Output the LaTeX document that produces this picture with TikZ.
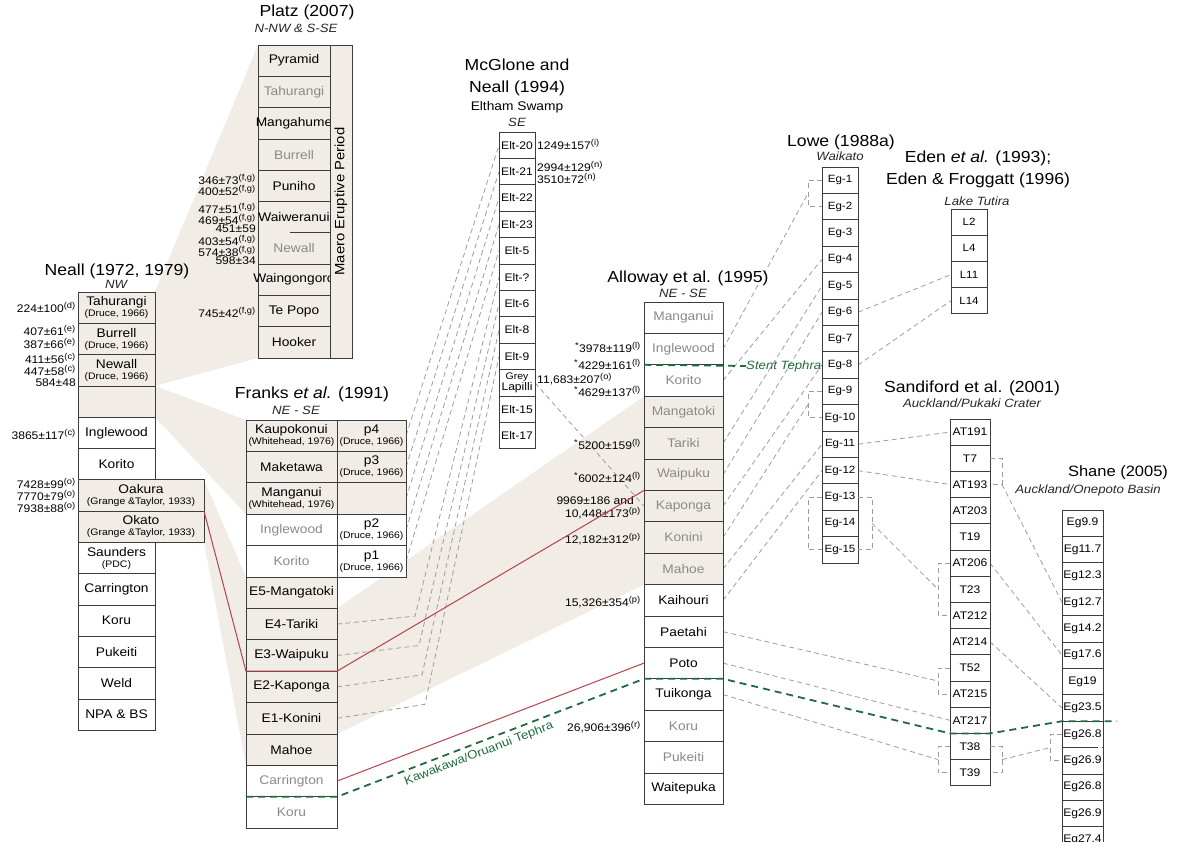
\documentclass[tikz,border=0pt]{standalone}
\usepackage{fontspec}
\setmainfont{Liberation Sans}[FakeStretch=1.1]
\usetikzlibrary{calc}

\definecolor{beige}{HTML}{F2ECE6}
\definecolor{cellline}{HTML}{3C3C3C}
\definecolor{gtext}{HTML}{8A8A8A}
\definecolor{dashgrey}{HTML}{9C9C9C}
\definecolor{tephragreen}{HTML}{1F6B3C}
\definecolor{boundred}{HTML}{B4434C}

\pgfdeclarelayer{bg}
\pgfsetlayers{bg,main}

\newcommand{\srcnote}[1]{\\[-2pt]{\fontsize{9.5}{10}\selectfont #1}}
\newcommand{\sups}[1]{\textsuperscript{\fontsize{8.5}{9}\selectfont #1}}

\tikzset{
  cell/.style={draw=cellline, line width=0.8pt, inner sep=0pt, outer sep=0pt,
    align=center, font=\fontsize{12.5}{13}\selectfont},
  tcell/.style={cell, fill=white, font=\fontsize{11}{11.5}\selectfont},
  coltitle/.style={font=\fontsize{16}{22}\selectfont, align=center, inner sep=0pt},
  colsub/.style={font=\fontsize{12}{13}\selectfont\itshape, text=black!85, inner sep=0pt},
  datelbl/.style={font=\fontsize{11}{11}\selectfont, inner sep=0pt, anchor=east},
  band/.style={fill=beige, draw=none},
  tielink/.style={draw=dashgrey, line width=0.8pt, dash pattern=on 5pt off 3.5pt},
  redline/.style={draw=boundred, line width=1pt},
  tephra/.style={draw=tephragreen, line width=1.8pt, dash pattern=on 7pt off 5pt},
}

\begin{document}
\begin{tikzpicture}[x=1pt,y=-1pt]
\useasboundingbox (0,0) rectangle (1178,841);
\clip (0,0) rectangle (1178,841);

% Platz (2007)
\node[coltitle] (pl-t) at (307,12) {Platz (2007)};
\node[colsub] (pl-s) at (296,28) {N-NW \& S-SE};
\foreach \lab/\tc [count=\i] in {Pyramid/black, Tahurangi/gtext, Mangahume/black,
    Burrell/gtext, Puniho/black, Waiweranui/black, Newall/gtext, Waingongoro/black,
    Te Popo/black, Hooker/black}
  \node[cell, fill=beige, text=\tc, minimum width=72pt, minimum height=31.3pt]
    (pl-\i) at (294,{45+(\i-0.5)*31.3}) {\makebox[0pt]{\lab}};
\draw[beige, line width=1.4pt] ($(pl-6.south west)+(0.8,0)$) -- ++(31,0);
\node[cell, fill=beige, rotate=90, minimum width=313pt, minimum height=22pt,
  font=\fontsize{13.5}{14}\selectfont] (pl-maero) at (341,201.5) {Maero Eruptive Period};
\foreach \y/\t [count=\i] in {179/{346±73\sups{(f,g)}}, 190/{400±52\sups{(f,g)}},
    208/{477±51\sups{(f,g)}}, 219/{469±54\sups{(f,g)}}, 229/{451±59},
    240/{403±54\sups{(f,g)}}, 251/{574±38\sups{(f,g)}}, 261/{598±34},
    312/{745±42\sups{(f,g)}}}
  \node[datelbl] (pd-\i) at (256,\y) {\t};

% Neall (1972, 1979)
\node[coltitle] (ne-t) at (117,271) {Neall (1972, 1979)};
\node[colsub] (ne-s) at (116,284) {NW};
\foreach \lab/\bg/\tc/\w [count=\i] in {
    {Tahurangi\srcnote{(Druce, 1966)}}/beige/black/77,
    {Burrell\srcnote{(Druce, 1966)}}/beige/black/77,
    {Newall\srcnote{(Druce, 1966)}}/beige/black/77,
    {}/beige/black/77,
    Inglewood/white/black/77,
    Korito/white/black/77,
    {Oakura\srcnote{(Grange \&Taylor, 1933)}}/beige/black/126,
    {Okato\srcnote{(Grange \&Taylor, 1933)}}/beige/black/126,
    {Saunders\srcnote{(PDC)}}/white/black/77,
    Carrington/white/black/77,
    Koru/white/black/77,
    Pukeiti/white/black/77,
    Weld/white/black/77,
    {NPA \& BS}/white/black/77}
  \node[cell, fill=\bg, text=\tc, minimum width=\w pt, minimum height=31.3pt]
    (ne-\i) at ({78+\w/2},{292+(\i-0.5)*31.3}) {\lab};
\foreach \y/\t [count=\i] in {307/{224±100\sups{(d)}}, 330/{407±61\sups{(e)}},
    343/{387±66\sups{(e)}}, 358/{411±56\sups{(c)}}, 370/{447±58\sups{(c)}},
    383/{584±48}, 434/{3865±117\sups{(c)}}, 483/{7428±99\sups{(o)}},
    495/{7770±79\sups{(o)}}, 507/{7938±88\sups{(o)}}}
  \node[datelbl] (nd-\i) at (76,\y) {\t};

% Franks et al. (1991)
\node[coltitle] (fr-t) at (312,394) {Franks \textit{et al.} (1991)};
\node[colsub] (fr-s) at (296,410) {NE - SE};
\foreach \lab/\bg/\tc [count=\i] in {
    {Kaupokonui\srcnote{(Whitehead, 1976)}}/beige/black,
    Maketawa/beige/black,
    {Manganui\srcnote{(Whitehead, 1976)}}/beige/black,
    Inglewood/white/gtext,
    Korito/white/gtext,
    E5-Mangatoki/beige/black,
    E4-Tariki/beige/black,
    E3-Waipuku/beige/black,
    E2-Kaponga/beige/black,
    E1-Konini/beige/black,
    Mahoe/beige/black,
    Carrington/white/gtext,
    Koru/white/gtext}
  \node[cell, fill=\bg, text=\tc, minimum width=91pt, minimum height=31.4pt]
    (fr-\i) at (291.5,{420+(\i-0.5)*31.4}) {\lab};
\foreach \lab/\bg [count=\i] in {{p4\srcnote{(Druce, 1966)}}/beige,
    {p3\srcnote{(Druce, 1966)}}/beige, {}/beige,
    {p2\srcnote{(Druce, 1966)}}/white, {p1\srcnote{(Druce, 1966)}}/white}
  \node[cell, fill=\bg, minimum width=69pt, minimum height=31.4pt]
    (fr-r\i) at (371.5,{420+(\i-0.5)*31.4}) {\lab};

% McGlone and Neall (1994)
\node[coltitle] (mc-t) at (517,77) {McGlone and\\Neall (1994)};
\node[font=\fontsize{12.5}{13}\selectfont, inner sep=0pt] (mc-s) at (517,107) {Eltham Swamp};
\node[colsub] (mc-d) at (517,122) {SE};
\foreach \lab [count=\i] in {Elt-20, Elt-21, Elt-22, Elt-23, Elt-5, Elt-?, Elt-6,
    Elt-8, Elt-9, {\fontsize{9.5}{9.5}\selectfont Grey\\Lapilli}, Elt-15, Elt-17}
  \node[tcell, minimum width=36pt, minimum height=26.4pt]
    (mc-\i) at (517,{132+(\i-0.5)*26.4}) {\lab};
\foreach \y/\t [count=\i] in {144/{1249±157\sups{(i)}}, 166/{2994±129\sups{(n)}},
    178/{3510±72\sups{(n)}}, 379/{11,683±207\sups{(o)}}}
  \node[datelbl, anchor=west] (md-\i) at (537,\y) {\t};

% Alloway et al. (1995)
\node[coltitle] (al-t) at (688,278) {Alloway et al. (1995)};
\node[colsub] (al-s) at (683,293) {NE - SE};
\foreach \lab/\bg/\tc [count=\i] in {Manganui/white/gtext, Inglewood/white/gtext,
    Korito/white/gtext, Mangatoki/beige/gtext, Tariki/beige/gtext,
    Waipuku/beige/gtext, Kaponga/beige/gtext, Konini/beige/gtext,
    Mahoe/beige/gtext, Kaihouri/white/black, Paetahi/white/black,
    Poto/white/black, Tuikonga/white/black, Koru/white/gtext,
    Pukeiti/white/gtext, Waitepuka/white/black}
  \node[cell, fill=\bg, text=\tc, minimum width=79pt, minimum height=31.4pt]
    (al-\i) at (683.5,{302+(\i-0.5)*31.4}) {\lab};
\foreach \y/\t [count=\i] in {347/{\sups{*}3978±119\sups{(l)}},
    364/{\sups{*}4229±161\sups{(l)}}, 391/{\sups{*}4629±137\sups{(l)}},
    444/{\sups{*}5200±159\sups{(l)}}, 477/{\sups{*}6002±124\sups{(l)}},
    513/{10,448±173\sups{(p)}}, 539/{12,182±312\sups{(p)}},
    602/{15,326±354\sups{(p)}}, 727/{26,906±396\sups{(r)}}}
  \node[datelbl] (ad-\i) at (641,\y) {\t};
\node[datelbl] (ad-and) at (634,501) {9969±186 and};

% Lowe (1988a)
\node[coltitle] (lo-t) at (841,142) {Lowe (1988a)};
\node[colsub] (lo-s) at (840,156) {Waikato};
\foreach \i in {1,...,15}
  \node[tcell, font=\fontsize{10.5}{11}\selectfont, minimum width=36pt, minimum height=26.4pt]
    (lo-\i) at (840,{167+(\i-0.5)*26.4}) {Eg-\i};

% Eden et al. (1993); Eden & Froggatt (1996)
\node[coltitle] (ed-t) at (978,169) {Eden \textit{et al.} (1993);\\Eden \& Froggatt (1996)};
\node[colsub] (ed-s) at (977,201) {Lake Tutira};
\foreach \lab [count=\i] in {L2, L4, L11, L14}
  \node[tcell, font=\fontsize{10.5}{11}\selectfont, minimum width=36pt, minimum height=26.2pt]
    (ed-\i) at (969,{209+(\i-0.5)*26.2}) {\lab};

% Sandiford et al. (2001)
\node[coltitle] (sa-t) at (972,388) {Sandiford et al. (2001)};
\node[colsub] (sa-s) at (972,403) {Auckland/Pukaki Crater};
\foreach \lab [count=\i] in {AT191, T7, AT193, AT203, T19, AT206, T23, AT212,
    AT214, T52, AT215, AT217, T38, T39}
  \node[tcell, minimum width=40pt, minimum height=26.2pt]
    (sa-\i) at (970,{419+(\i-0.5)*26.2}) {\lab};

% Shane (2005)
\node[coltitle, font=\fontsize{15}{16}\selectfont] (sh-t) at (1118,473) {Shane (2005)};
\node[colsub] (sh-s) at (1088,490) {Auckland/Onepoto Basin};
\foreach \lab [count=\i] in {Eg9.9, Eg11.7, Eg12.3, Eg12.7, Eg14.2, Eg17.6, Eg19,
    Eg23.5, Eg26.8, Eg26.9, Eg26.8, Eg26.9, Eg27.4}
  \node[tcell, minimum width=41pt, minimum height=26.4pt]
    (sh-\i) at (1082.5,{510+(\i-0.5)*26.4}) {\lab};
\draw[white, line width=1.4pt] ($(sh-9.south east)+(-5,0)$) -- ($(sh-9.south east)+(-0.6,0)$);

% brackets
\draw[tielink] (lo-1.west) -- ++(-14,0) |- (lo-2.west);
\coordinate (lo-b12) at ($(lo-1.west)!.5!(lo-2.west)+(-14,0)$);
\draw[tielink] (lo-9.west) -- ++(-14,0) |- (lo-10.west);
\coordinate (lo-b910) at ($(lo-9.west)!.5!(lo-10.west)+(-14,0)$);
\draw[tielink] (lo-13.west) -- ++(-14,0) |- (lo-15.west);
\draw[tielink] (lo-13.east) -- ++(14,0) |- (lo-15.east);
\coordinate (lo-b1315r) at ($(lo-13.east)!.5!(lo-15.east)+(14,0)$);
\draw[tielink] (sa-6.west) -- ++(-12,0) |- (sa-8.west);
\coordinate (sa-b0608) at ($(sa-6.west)!.5!(sa-8.west)+(-12,0)$);
\draw[tielink] (sa-10.west) -- ++(-12,0) |- (sa-11.west);
\coordinate (sa-b1011) at ($(sa-10.west)!.5!(sa-11.west)+(-12,0)$);
\draw[tielink] (sa-13.west) -- ++(-12,0) |- (sa-14.west);
\coordinate (sa-b1314) at ($(sa-13.west)!.5!(sa-14.west)+(-12,0)$);
\draw[tielink] (sa-2.east) -- ++(12,0) |- (sa-3.east);
\coordinate (sa-b0203r) at ($(sa-3.east)+(12,0)$);
\draw[tielink] (sa-13.east) -- ++(12,0) |- (sa-14.east);
\coordinate (sa-b1314r) at ($(sa-13.east)!.5!(sa-14.east)+(12,0)$);
\draw[tielink] (sh-9.west) -- ++(-12,0) |- (sh-10.west);
\coordinate (sh-b0910) at ($(sh-9.west)!.5!(sh-10.west)+(-12,0)$);

% correlation bands and tie lines
\begin{pgfonlayer}{bg}
\fill[band] (ne-1.north east) -- (pl-1.north west) -- (pl-10.south west) -- (ne-3.south east) -- cycle;
\fill[band] (ne-4.north east) -- (fr-1.north west) -- (fr-3.south west) -- (ne-4.south east) -- cycle;
\fill[band] (ne-7.north east) -- (fr-6.north west) -- (fr-11.south west) -- (ne-8.south east) -- cycle;
\fill[band] (fr-7.north east) -- (al-4.north west) -- (al-9.south west) -- (fr-10.south east) -- cycle;
\foreach \a in {1,...,5}
  \draw[tielink] (fr-r\a.east) -- (mc-\a.west);
\foreach \a/\b/\dx/\dy in {7/6/78/8, 8/7/82/10, 9/8/85/12, 10/9/88/14}
  \draw[tielink] (fr-\a.east) -- ++(\dx,-\dy) -- (mc-\b.west);
\draw[tielink] (mc-10.east) -- (al-7.west);
\foreach \a/\b in {2/lo-b12, 3/lo-4.west, 5/lo-5.west, 6/lo-6.west, 7/lo-8.west,
    8/lo-b910, 9/lo-11.west, 10/lo-12.west}
  \draw[tielink] (al-\a.east) -- (\b);
\draw[tielink] (lo-6.east) -- (ed-3.west);
\draw[tielink] (lo-8.east) -- (ed-4.west);
\draw[tielink] (lo-11.east) -- (sa-1.west);
\draw[tielink] (lo-12.east) -- (sa-3.west);
\draw[tielink] (lo-b1315r) -- (sa-b0608);
\draw[tielink] (al-11.east) -- (sa-b1011);
\draw[tielink] (al-12.east) -- (sa-12.west);
\draw[tielink] (al-13.east) -- (sa-b1314);
\draw[tielink] (sa-b0203r) -- (sh-4.west);
\draw[tielink] (sa-6.east) -- (sh-6.west);
\draw[tielink] (sa-9.east) -- (sh-8.west);
\draw[tielink] (sa-b1314r) -- (sh-b0910);
\end{pgfonlayer}

% boundaries
\draw[redline] (ne-7.south east) -- (fr-8.south west) -- (fr-8.south east) -- (al-6.south west);
\draw[redline] (fr-12.east) -- (al-12.west);
\node[anchor=west, inner sep=0pt, text=tephragreen, font=\fontsize{12}{12}\selectfont\itshape]
  (st-lbl) at (746,366) {Stent Tephra};
\draw[tephra] (al-2.south west) -- (st-lbl.west);
\draw[tephra] (fr-12.south west) -- (fr-12.south east)
  -- node[sloped, below=1pt, pos=0.45, text=tephragreen, font=\fontsize{12}{13}\selectfont] (kk-lbl)
     {Kawakawa/Oruanui Tephra} (al-12.south west)
  -- (al-12.south east) -- (sa-12.south west) -- (sa-12.south east)
  -- (sh-8.south west) -- (sh-8.south east) -- ++(14,0);
\end{tikzpicture}
\end{document}
